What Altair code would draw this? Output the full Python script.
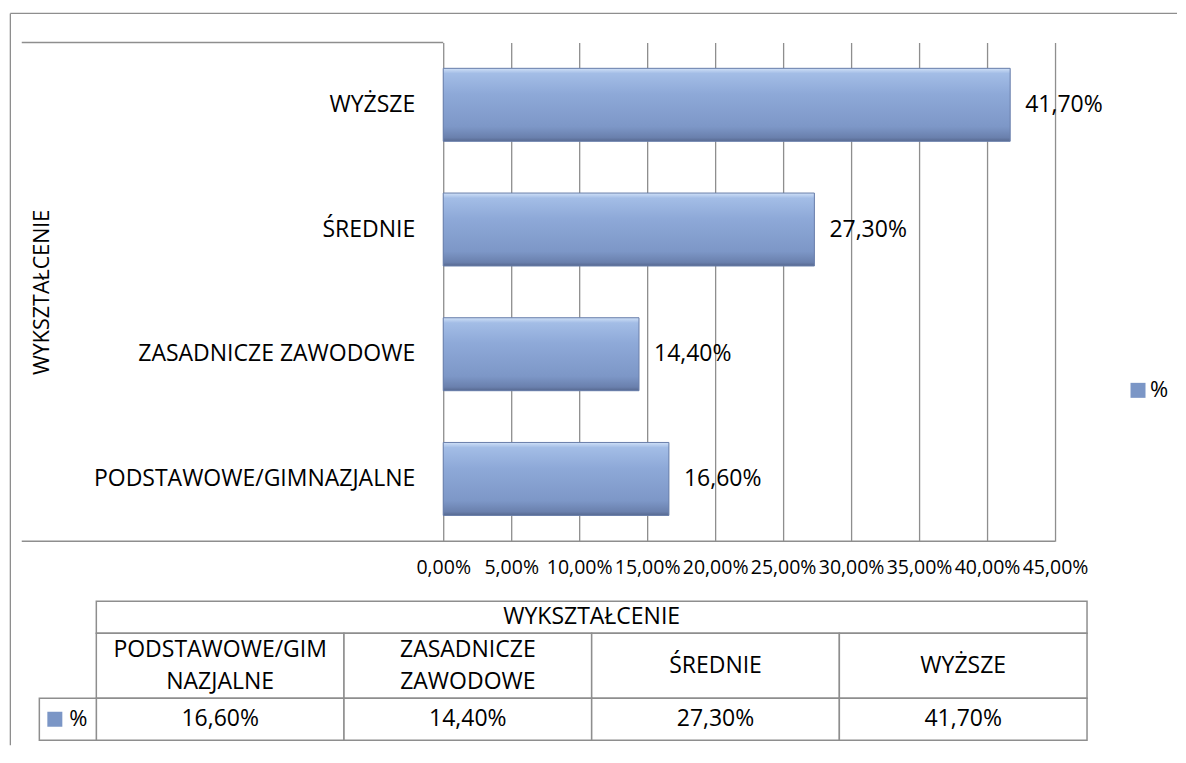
import altair as alt
import pandas as pd

# ---------------- data ----------------
categories = ["PODSTAWOWE/GIMNAZJALNE", "ZASADNICZE ZAWODOWE", "ŚREDNIE", "WYŻSZE"]
table_labels = ["PODSTAWOWE/GIM\nNAZJALNE", "ZASADNICZE\nZAWODOWE", "ŚREDNIE", "WYŻSZE"]
values = [16.6, 14.4, 27.3, 41.7]
series_name = "%"
axis_title = "WYKSZTAŁCENIE"
tick_values = [0, 5, 10, 15, 20, 25, 30, 35, 40, 45]

df = pd.DataFrame({"cat": categories, "tlabel": table_labels,
                   "value": values, "series": [series_name] * 4})
one = pd.DataFrame({"k": [0]})
header_df = pd.DataFrame({"h": [axis_title]})
legend_df = pd.DataFrame({"s": [series_name]})

# ---------------- style / layout ----------------
FONT = "Open Sans"
GRID = "#8e8e8e"
BLUE = "#7b96c6"
PLOT_W, PLOT_H = 959, 499
X_LEFT, X_MAX = -25.515, 45
X_WALL = -31.0
TABLE_W = 991
LINE_H = 32
PCT = "replace(format({v}, '.2f'), '.', ',') + '%'"

bar_order = list(reversed(categories))

grad = alt.LinearGradient(
    gradient="linear", x1=0, y1=0, x2=0, y2=1,
    stops=[alt.GradientStop(color="#cfe0f7", offset=0),
           alt.GradientStop(color="#a3bde6", offset=0.07),
           alt.GradientStop(color="#8ea9d8", offset=0.35),
           alt.GradientStop(color="#7d97c7", offset=0.8),
           alt.GradientStop(color="#6a80ad", offset=0.95),
           alt.GradientStop(color="#56688f", offset=1)])

xscale = alt.Scale(domain=[X_LEFT, X_MAX], nice=False, zero=False)
yscale = alt.Scale(domain=bar_order, paddingInner=0.415, paddingOuter=0.2075)

x_enc = alt.X("value:Q", scale=xscale,
              axis=alt.Axis(values=tick_values, grid=True, gridColor=GRID, gridWidth=1.3,
                            ticks=False, domain=False, labelExpr=PCT.format(v="datum.value"),
                            labelFontSize=19.5, labelColor="black", labelPadding=17,
                            labelFlush=False, labelOverlap=False, title=None))
y_enc = alt.Y("cat:N", scale=yscale, sort=bar_order,
              axis=alt.Axis(labels=False, ticks=False, domain=False, grid=False,
                            title=axis_title, titleX=-54, titleY=PLOT_H / 2, titleAngle=270,
                            titleBaseline="middle", titleAlign="center", titleFontSize=21.5,
                            titleFontWeight="normal", titleColor="black"))

base = alt.Chart(df)

bars_solid = base.mark_bar().encode(
    x=x_enc, y=y_enc,
    color=alt.Color("series:N", scale=alt.Scale(domain=[series_name], range=[BLUE]),
                    legend=alt.Legend(orient="none", legendX=1031, legendY=337, title=None,
                                      symbolType="square", symbolSize=225, symbolStrokeWidth=0,
                                      labelFontSize=22, labelColor="black", labelOffset=1,
                                      padding=0)))
bars_grad = base.mark_bar(color=grad, stroke="#6a80ab", strokeWidth=1).encode(x=x_enc, y=y_enc)

bar_labels = base.transform_calculate(label=PCT.format(v="datum.value")).mark_text(
    align="left", baseline="middle", dx=15, fontSize=23, color="black"
).encode(x=x_enc, y=y_enc, text="label:N")

cat_labels = base.mark_text(align="right", baseline="middle", dx=-28, fontSize=23,
                            color="black").encode(x=alt.datum(0), y=y_enc, text="cat:N")

wall_top = alt.Chart(one).mark_rule(color=GRID, strokeWidth=1.5).encode(
    x=alt.datum(X_WALL), x2=alt.datum(0), y=alt.value(0))
floor = alt.Chart(one).mark_rule(color=GRID, strokeWidth=1.5).encode(
    x=alt.datum(X_WALL), x2=alt.datum(X_MAX), y=alt.value(PLOT_H))

frame_left = alt.Chart(one).mark_rule(color=GRID, strokeWidth=1.3).encode(
    x=alt.value(-86), y=alt.value(-29), y2=alt.value(703))
frame_top = alt.Chart(one).mark_rule(color=GRID, strokeWidth=1.3).encode(
    x=alt.value(-86), x2=alt.value(1081), y=alt.value(-29))

top = alt.layer(bars_solid, bars_grad, bar_labels, cat_labels, wall_top, floor,
                frame_left, frame_top).properties(width=PLOT_W, height=PLOT_H)

# ---------------- data table ----------------
tx = alt.X("cat:N", sort=categories,
           scale=alt.Scale(domain=categories, paddingInner=0, paddingOuter=0), axis=None)
cell = dict(fill="white", stroke=GRID, strokeWidth=1.5)
txt = dict(fontSize=23, baseline="middle", color="black")

header = alt.layer(
    alt.Chart(header_df).mark_rect(**cell),
    alt.Chart(header_df).mark_text(**txt).encode(text="h:N"),
).properties(width=TABLE_W, height=32)

lines = base.transform_calculate(
    parts="split(datum.tlabel, '\\n')"
).transform_calculate(
    n="length(datum.parts)", l1="datum.parts[0]",
    l2="length(datum.parts) > 1 ? datum.parts[1] : ''")

catrow = alt.layer(
    base.mark_rect(**cell).encode(x=tx),
    lines.transform_filter("datum.n == 1").mark_text(**txt).encode(x=tx, text="l1:N"),
    lines.transform_filter("datum.n > 1").mark_text(dy=-LINE_H / 2, **txt).encode(x=tx, text="l1:N"),
    lines.transform_filter("datum.n > 1").mark_text(dy=LINE_H / 2, **txt).encode(x=tx, text="l2:N"),
).properties(width=TABLE_W, height=65)

valrow = alt.layer(
    base.mark_rect(**cell).encode(x=tx),
    base.transform_calculate(label=PCT.format(v="datum.value")).mark_text(**txt).encode(
        x=tx, text="label:N"),
    alt.Chart(legend_df).mark_rect(**cell).encode(
        x=alt.value(-57), x2=alt.value(0), y=alt.value(0), y2=alt.value(42)),
    alt.Chart(legend_df).mark_square(size=225, color=BLUE, opacity=1).encode(
        x=alt.value(-41.5), y=alt.value(21)),
    alt.Chart(legend_df).mark_text(fontSize=22, align="left", baseline="middle",
                                   color="black").encode(
        x=alt.value(-27), y=alt.value(21), text="s:N"),
).properties(width=TABLE_W, height=42)

table = alt.vconcat(header, catrow, valrow, spacing=0, bounds="flush")

chart = alt.vconcat(top, table, spacing=60, bounds="flush").properties(
    padding={"left": 1.35, "top": 4.35, "right": 0, "bottom": 0}
).resolve_legend(color="independent").configure(font=FONT).configure_view(strokeWidth=0)

chart.save("out.html", embed_options={"renderer": "svg", "actions": False})
